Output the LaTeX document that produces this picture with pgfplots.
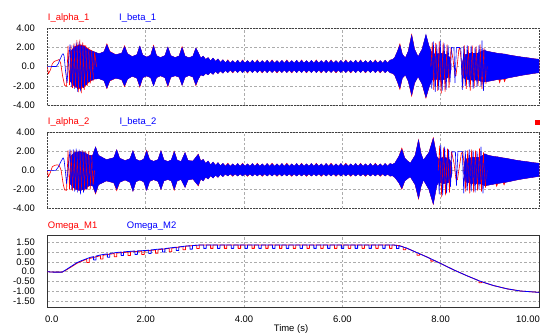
\documentclass[border=0pt]{standalone}
\usepackage{pgfplots}
\pgfplotsset{compat=1.18}
\usepackage{pgfplotstable}
\usepgfplotslibrary{fillbetween}
\usepackage{fontspec}
\setmainfont{Liberation Sans}

\pgfplotstableread{
t bu bl ru rl
0.46 1.5 -1.5 1.5 -1.5
0.55 2.0 -2.0 2.1 -2.1
0.65 2.2 -2.2 2.3 -2.3
0.75 2.1 -2.0 2.2 -2.1
0.85 1.7 -1.5 1.8 -1.6
0.95 1.55 -1.3 1.55 -1.3
1.05 1.35 -1.25 1.35 -1.25
1.15 1.55 -1.45 1.55 -1.45
1.21 2.3 -2.25 2.4 -2.3
1.27 1.55 -1.45 1.6 -1.5
1.39 1.25 -1.2 1.25 -1.2
1.51 1.4 -1.35 1.4 -1.35
1.57 2.1 -2.0 2.2 -2.1
1.63 1.35 -1.3 1.35 -1.3
1.725 1.05 -1.0 1.05 -1.0
1.82 1.25 -1.2 1.25 -1.2
1.88 2.15 -2.05 2.15 -2.15
1.94 1.2 -1.15 1.2 -1.15
2.02 1.0 -0.97 1.0 -0.97
2.10 1.2 -1.15 1.2 -1.15
2.16 2.15 -2.0 2.25 -2.0
2.22 1.15 -1.15 1.15 -1.15
2.30 0.95 -0.95 0.95 -0.95
2.39 1.15 -1.15 1.15 -1.15
2.45 2.05 -2.0 2.05 -2.1
2.51 1.15 -1.1 1.15 -1.1
2.60 0.95 -0.95 0.95 -0.95
2.68 1.12 -1.1 1.12 -1.1
2.74 2.0 -1.95 2.1 -1.95
2.80 1.1 -1.1 1.1 -1.1
2.88 0.92 -0.92 0.92 -0.92
2.96 1.1 -1.08 1.1 -1.08
3.02 1.95 -1.9 1.95 -2.0
3.07 1.46 -1.3 1.46 -1.3
3.12 0.9 -0.85 0.9 -0.85
3.17 1.1 -0.97 1.1 -0.97
3.22 0.75 -0.7 0.75 -0.7
3.27 0.95 -0.85 0.95 -0.85
3.32 0.6 -0.6 0.6 -0.6
3.37 0.9 -0.8 0.9 -0.8
3.42 0.55 -0.5 0.55 -0.5
3.47 0.8 -0.72 0.8 -0.72
3.52 0.45 -0.45 0.45 -0.45
3.57 0.72 -0.68 0.72 -0.68
3.62 0.4 -0.4 0.4 -0.4
3.67 0.66 -0.62 0.72 -0.62
3.72 0.36 -0.35 0.36 -0.35
3.77 0.64 -0.6 0.64 -0.66
3.82 0.36 -0.35 0.36 -0.35
3.87 0.68 -0.62 0.68 -0.62
3.92 0.36 -0.35 0.36 -0.35
3.97 0.65 -0.63 0.71 -0.63
4.02 0.36 -0.35 0.36 -0.35
4.07 0.63 -0.6 0.63 -0.67
4.12 0.36 -0.35 0.36 -0.35
4.17 0.67 -0.62 0.67 -0.62
4.22 0.36 -0.35 0.36 -0.35
4.27 0.65 -0.62 0.71 -0.62
4.32 0.36 -0.35 0.36 -0.35
4.37 0.64 -0.6 0.64 -0.66
4.42 0.36 -0.35 0.36 -0.35
4.47 0.67 -0.63 0.67 -0.63
4.52 0.36 -0.35 0.36 -0.35
4.57 0.65 -0.61 0.71 -0.61
4.62 0.36 -0.35 0.36 -0.35
4.67 0.63 -0.6 0.63 -0.66
4.72 0.36 -0.35 0.36 -0.35
4.77 0.66 -0.62 0.66 -0.62
4.82 0.36 -0.35 0.36 -0.35
4.87 0.65 -0.62 0.71 -0.62
4.92 0.36 -0.35 0.36 -0.35
4.97 0.64 -0.6 0.64 -0.66
5.02 0.36 -0.35 0.36 -0.35
5.07 0.67 -0.63 0.67 -0.63
5.12 0.36 -0.35 0.36 -0.35
5.17 0.65 -0.61 0.71 -0.61
5.22 0.36 -0.35 0.36 -0.35
5.27 0.63 -0.6 0.63 -0.66
5.32 0.36 -0.35 0.36 -0.35
5.37 0.66 -0.62 0.66 -0.62
5.42 0.36 -0.35 0.36 -0.35
5.47 0.65 -0.62 0.71 -0.62
5.52 0.36 -0.35 0.36 -0.35
5.57 0.64 -0.6 0.64 -0.66
5.62 0.36 -0.35 0.36 -0.35
5.67 0.67 -0.63 0.67 -0.63
5.72 0.36 -0.35 0.36 -0.35
5.77 0.65 -0.61 0.71 -0.61
5.82 0.36 -0.35 0.36 -0.35
5.87 0.63 -0.6 0.63 -0.66
5.92 0.36 -0.35 0.36 -0.35
5.97 0.66 -0.62 0.66 -0.62
6.02 0.36 -0.35 0.36 -0.35
6.07 0.65 -0.62 0.71 -0.62
6.12 0.36 -0.35 0.36 -0.35
6.17 0.64 -0.6 0.64 -0.66
6.22 0.36 -0.35 0.36 -0.35
6.27 0.67 -0.63 0.67 -0.63
6.32 0.36 -0.35 0.36 -0.35
6.37 0.65 -0.61 0.71 -0.61
6.42 0.36 -0.35 0.36 -0.35
6.47 0.63 -0.6 0.63 -0.66
6.52 0.36 -0.35 0.36 -0.35
6.57 0.66 -0.62 0.66 -0.62
6.62 0.36 -0.35 0.36 -0.35
6.67 0.65 -0.62 0.71 -0.62
6.72 0.36 -0.35 0.36 -0.35
6.77 0.64 -0.6 0.64 -0.66
6.82 0.36 -0.35 0.36 -0.35
6.87 0.67 -0.63 0.67 -0.63
6.92 0.38 -0.37 0.38 -0.37
6.97 0.68 -0.64 0.68 -0.64
7.02 0.75 -0.7 0.75 -0.7
7.06 0.9 -0.85 0.9 -0.85
7.12 1.6 -1.6 1.6 -1.6
7.17 2.26 -2.25 2.4 -2.4
7.22 1.3 -1.2 1.3 -1.2
7.28 0.9 -0.86 0.9 -0.86
7.34 1.6 -1.5 1.6 -1.5
7.41 3.3 -2.95 3.4 -3.1
7.47 1.8 -1.7 1.8 -1.7
7.54 1.04 -1.04 1.04 -1.04
7.62 1.8 -1.8 1.8 -1.8
7.70 3.37 -3.2 3.3 -3.3
7.76 2.2 -2.2 2.2 -2.2
7.82 1.4 -1.4 1.4 -1.4
7.90 1.3 -1.3 1.3 -1.3
8.00 1.4 -1.4 1.4 -1.4
8.10 1.3 -1.3 1.3 -1.3
8.18 1.0 -1.0 1.0 -1.0
8.21 0.3 -0.3 0.3 -0.3
}\pOneA

\pgfplotstableread{
t bu bl ru rl
8.44 0.3 -0.3 0.3 -0.3
8.47 1.2 -1.2 1.2 -1.2
8.60 1.4 -1.4 1.4 -1.4
8.75 1.4 -1.4 1.4 -1.4
8.88 1.7 -1.6 1.7 -1.6
8.95 1.6 -1.55 1.6 -1.55
9.05 1.5 -1.45 1.5 -1.45
9.15 1.4 -1.35 1.4 -1.35
9.18 1.38 -1.34 1.38 -1.34
9.20 1.37 -1.33 1.37 -1.7
9.22 1.36 -1.32 1.36 -1.32
9.28 1.32 -1.28 1.32 -1.28
9.30 1.31 -1.27 1.31 -1.6
9.32 1.3 -1.26 1.3 -1.26
9.35 1.25 -1.2 1.25 -1.2
9.50 1.12 -1.05 1.12 -1.05
9.65 1.0 -0.9 1.0 -0.9
9.80 0.9 -0.78 0.9 -0.78
9.90 0.82 -0.7 0.82 -0.7
10.0 0.77 -0.63 0.77 -0.63
}\pOneB

\pgfplotstableread{
t bu bl ru rl
0.46 1.4 -1.4 1.4 -1.4
0.55 1.9 -1.9 1.9 -1.9
0.65 2.0 -2.1 2.0 -2.1
0.75 1.9 -2.0 1.9 -2.0
0.85 1.6 -1.6 1.6 -1.6
0.92 1.6 -1.6 1.6 -1.6
0.98 2.5 -2.4 2.5 -2.5
1.04 1.6 -1.5 1.6 -1.5
1.20 1.15 -1.1 1.15 -1.1
1.35 1.35 -1.3 1.35 -1.3
1.41 2.2 -2.0 2.2 -2.15
1.47 1.3 -1.25 1.3 -1.25
1.58 1.05 -1.0 1.05 -1.0
1.68 1.25 -1.25 1.25 -1.25
1.74 2.1 -2.2 2.1 -2.2
1.80 1.2 -1.2 1.2 -1.2
1.88 1.0 -1.0 1.0 -1.0
1.96 1.2 -1.2 1.2 -1.2
2.02 2.05 -2.1 2.15 -2.1
2.08 1.15 -1.15 1.15 -1.15
2.16 0.97 -0.97 0.97 -0.97
2.25 1.15 -1.15 1.15 -1.15
2.31 2.1 -2.0 2.1 -2.0
2.37 1.12 -1.1 1.12 -1.1
2.45 0.95 -0.95 0.95 -0.95
2.52 1.12 -1.1 1.12 -1.1
2.58 2.0 -2.0 2.05 -2.1
2.64 1.1 -1.1 1.1 -1.1
2.72 0.95 -0.95 0.95 -0.95
2.80 1.9 -1.8 1.9 -1.8
2.86 1.05 -1.0 1.05 -1.0
2.96 1.0 -0.9 1.0 -0.9
3.02 1.4 -1.3 1.4 -1.3
3.07 1.71 -1.57 1.75 -1.65
3.12 1.0 -0.9 1.0 -0.9
3.17 1.18 -1.1 1.18 -1.1
3.22 0.75 -0.7 0.75 -0.7
3.27 1.0 -0.9 1.0 -0.9
3.32 0.6 -0.55 0.6 -0.55
3.37 0.9 -0.8 0.9 -0.8
3.42 0.55 -0.5 0.55 -0.5
3.47 0.83 -0.72 0.83 -0.72
3.52 0.5 -0.42 0.5 -0.42
3.57 0.76 -0.65 0.76 -0.65
3.62 0.46 -0.38 0.46 -0.38
3.67 0.72 -0.58 0.78 -0.58
3.72 0.45 -0.36 0.45 -0.36
3.77 0.7 -0.57 0.7 -0.63
3.82 0.45 -0.36 0.45 -0.36
3.87 0.74 -0.59 0.74 -0.59
3.92 0.45 -0.36 0.45 -0.36
3.97 0.72 -0.58 0.78 -0.58
4.02 0.45 -0.36 0.45 -0.36
4.07 0.7 -0.57 0.7 -0.63
4.12 0.45 -0.36 0.45 -0.36
4.17 0.74 -0.59 0.74 -0.59
4.22 0.45 -0.36 0.45 -0.36
4.27 0.72 -0.58 0.78 -0.58
4.32 0.45 -0.36 0.45 -0.36
4.37 0.7 -0.57 0.7 -0.63
4.42 0.45 -0.36 0.45 -0.36
4.47 0.74 -0.59 0.74 -0.59
4.52 0.45 -0.36 0.45 -0.36
4.57 0.72 -0.58 0.78 -0.58
4.62 0.45 -0.36 0.45 -0.36
4.67 0.7 -0.57 0.7 -0.63
4.72 0.45 -0.36 0.45 -0.36
4.77 0.74 -0.59 0.74 -0.59
4.82 0.45 -0.36 0.45 -0.36
4.87 0.72 -0.58 0.78 -0.58
4.92 0.45 -0.36 0.45 -0.36
4.97 0.7 -0.57 0.7 -0.63
5.02 0.45 -0.36 0.45 -0.36
5.07 0.74 -0.59 0.74 -0.59
5.12 0.45 -0.36 0.45 -0.36
5.17 0.72 -0.58 0.78 -0.58
5.22 0.45 -0.36 0.45 -0.36
5.27 0.7 -0.57 0.7 -0.63
5.32 0.45 -0.36 0.45 -0.36
5.37 0.74 -0.59 0.74 -0.59
5.42 0.45 -0.36 0.45 -0.36
5.47 0.72 -0.58 0.78 -0.58
5.52 0.45 -0.36 0.45 -0.36
5.57 0.7 -0.57 0.7 -0.63
5.62 0.45 -0.36 0.45 -0.36
5.67 0.74 -0.59 0.74 -0.59
5.72 0.45 -0.36 0.45 -0.36
5.77 0.72 -0.58 0.78 -0.58
5.82 0.45 -0.36 0.45 -0.36
5.87 0.7 -0.57 0.7 -0.63
5.92 0.45 -0.36 0.45 -0.36
5.97 0.74 -0.59 0.74 -0.59
6.02 0.45 -0.36 0.45 -0.36
6.07 0.72 -0.58 0.78 -0.58
6.12 0.45 -0.36 0.45 -0.36
6.17 0.7 -0.57 0.7 -0.63
6.22 0.45 -0.36 0.45 -0.36
6.27 0.74 -0.59 0.74 -0.59
6.32 0.45 -0.36 0.45 -0.36
6.37 0.72 -0.58 0.78 -0.58
6.42 0.45 -0.36 0.45 -0.36
6.47 0.7 -0.57 0.7 -0.63
6.52 0.45 -0.36 0.45 -0.36
6.57 0.74 -0.59 0.74 -0.59
6.62 0.45 -0.36 0.45 -0.36
6.67 0.72 -0.58 0.78 -0.58
6.72 0.45 -0.36 0.45 -0.36
6.77 0.7 -0.57 0.7 -0.63
6.82 0.45 -0.36 0.45 -0.36
6.87 0.74 -0.59 0.74 -0.59
6.92 0.46 -0.38 0.46 -0.38
6.97 0.74 -0.6 0.74 -0.6
7.02 0.65 -0.55 0.65 -0.55
7.07 0.8 -0.75 0.8 -0.75
7.15 1.5 -1.3 1.5 -1.3
7.21 2.24 -1.9 2.4 -2.0
7.27 1.3 -1.1 1.3 -1.1
7.38 0.76 -0.65 0.76 -0.65
7.48 1.6 -1.5 1.6 -1.5
7.55 3.23 -2.95 3.3 -3.05
7.60 1.8 -1.7 1.8 -1.7
7.65 1.1 -1.0 1.1 -1.0
7.76 1.9 -2.0 1.9 -2.0
7.85 3.4 -3.55 3.5 -3.6
7.92 1.5 -1.6 1.5 -1.6
7.96 1.2 -1.2 1.2 -1.2
8.05 1.4 -1.4 1.4 -1.4
8.15 1.3 -1.3 1.3 -1.3
8.20 1.0 -1.0 1.0 -1.0
8.23 0.3 -0.3 0.3 -0.3
}\pTwoA

\pgfplotstableread{
t bu bl ru rl
8.47 0.3 -0.3 0.3 -0.3
8.50 1.2 -1.2 1.2 -1.2
8.65 1.4 -1.4 1.4 -1.4
8.80 1.4 -1.4 1.4 -1.4
8.90 1.75 -1.6 1.75 -1.6
8.97 1.6 -1.55 1.6 -1.55
9.07 1.5 -1.45 1.5 -1.45
9.12 1.46 -1.4 1.46 -1.4
9.14 1.45 -1.39 1.45 -1.7
9.16 1.44 -1.38 1.44 -1.38
9.27 1.33 -1.28 1.33 -1.28
9.29 1.32 -1.27 1.32 -1.55
9.31 1.31 -1.26 1.31 -1.26
9.37 1.25 -1.2 1.25 -1.2
9.50 1.12 -1.05 1.12 -1.05
9.65 1.0 -0.9 1.0 -0.9
9.80 0.9 -0.78 0.9 -0.78
9.90 0.82 -0.7 0.82 -0.7
10.0 0.77 -0.63 0.77 -0.63
}\pTwoB

\pgfplotsset{
  psim/.style={
    scale only axis, anchor=south west, width=491.6bp,
    xmin=0, xmax=10,
    axis line style={black!75, dash pattern=on 2bp off 1bp, line width=0.6bp},
    grid=major,
    major grid style={gray!65, dash pattern=on 2.5bp off 2bp, line width=0.5bp},
    major tick length=0pt,
    tick label style={font=\fontsize{9.5}{11}\selectfont, black},
    yticklabel style={anchor=east, inner sep=0pt, xshift=-12.4bp},
    xtick={2,4,6,8}, xticklabels={},
  },
  wave/.style={line width=0.6bp, line join=round, mark=none},
  band/.style={line width=0.3bp},
}

\newcommand{\lab}{\fontsize{9.5}{11}\selectfont}

\begin{document}
\begin{tikzpicture}

% ---------------- panel 1
\begin{axis}[psim, at={(47.4bp,229bp)}, height=76.7bp, ymin=-4, ymax=4,
  ytick={-4,-2,0,2,4}, yticklabels={-4.00,-2.00,0.0,2.00,4.00}]
% red I_alpha_1
\addplot[name path=r1u, draw=none] table[x=t,y=ru]{\pOneA};
\addplot[name path=r1l, draw=none] table[x=t,y=rl]{\pOneA};
\addplot[band, fill=red, draw=red] fill between[of=r1u and r1l];
\addplot[name path=r2u, draw=none] table[x=t,y=ru]{\pOneB};
\addplot[name path=r2l, draw=none] table[x=t,y=rl]{\pOneB};
\addplot[band, fill=red, draw=red] fill between[of=r2u and r2l];
\addplot[wave, red] coordinates {(0,0) (0.02,-0.75) (0.06,-0.35) (0.10,0.3) (0.14,0.55) (0.20,0.65) (0.24,0.75) (0.27,0.35) (0.31,-1.0) (0.35,-1.95) (0.39,-2.05) (0.42,2.15) (0.45,-1.9) (0.48,2.2) (0.51,-2.2) (0.54,2.4) (0.57,-2.1) (0.60,2.75) (0.63,-2.65) (0.66,2.8) (0.69,-2.75) (0.72,2.5) (0.75,-2.4) (0.78,2.2) (0.81,-2.0) (0.84,1.9) (0.87,-1.75) (0.90,1.7) (0.93,-1.5) (0.96,1.5) (1.0,0)};
\addplot[wave, red] coordinates {(7.80,0) (7.83,2.5) (7.86,-2.4) (7.90,2.45) (7.94,-2.5) (7.97,2.6) (8.01,-2.8) (8.05,2.5) (8.09,-2.6) (8.13,2.3) (8.17,-2.2) (8.21,2.0) (8.25,0.8) (8.29,-0.9) (8.31,-0.95) (8.34,0.3) (8.37,1.8) (8.39,2.0) (8.42,0.5) (8.45,-2.2) (8.48,2.2) (8.52,-2.3) (8.56,2.1) (8.60,-2.5) (8.64,2.2) (8.68,-2.2) (8.72,2.1) (8.76,-2.0) (8.80,2.3) (8.84,-2.3) (8.88,1.9) (8.92,-1.8) (8.95,0)};
% blue I_beta_1
\addplot[name path=b1u, draw=none] table[x=t,y=bu]{\pOneA};
\addplot[name path=b1l, draw=none] table[x=t,y=bl]{\pOneA};
\addplot[band, fill=blue, draw=blue] fill between[of=b1u and b1l];
\addplot[name path=b2u, draw=none] table[x=t,y=bu]{\pOneB};
\addplot[name path=b2l, draw=none] table[x=t,y=bl]{\pOneB};
\addplot[band, fill=blue, draw=blue] fill between[of=b2u and b2l];
\addplot[wave, blue] coordinates {(0,0) (0.18,0.02) (0.22,0.3) (0.26,0.8) (0.30,1.25) (0.32,1.35) (0.34,1.1) (0.37,-0.5) (0.40,-1.67) (0.43,0.5) (0.46,2.3) (0.495,-2.1) (0.525,2.2) (0.555,-2.3) (0.585,2.5) (0.615,-2.6) (0.645,2.6) (0.675,-2.55) (0.705,2.3) (0.735,-2.2) (0.765,2.0) (0.795,-1.9) (0.825,1.8) (0.855,-1.6) (0.885,1.6) (0.915,-1.4) (0.95,0)};
\addplot[wave, blue] coordinates {(7.80,0) (7.82,-2.3) (7.85,2.6) (7.89,-2.6) (7.92,2.3) (7.96,-2.4) (7.99,2.7) (8.03,-2.5) (8.07,2.4) (8.11,-2.4) (8.15,2.2) (8.19,-1.6) (8.22,2.0) (8.27,1.95) (8.29,-1.7) (8.32,2.0) (8.38,2.0) (8.41,1.9) (8.44,-2.4) (8.47,2.1) (8.50,-2.0) (8.54,2.2) (8.58,-2.1) (8.62,2.15) (8.66,-2.3) (8.70,2.0) (8.74,-2.1) (8.78,2.2) (8.82,-2.0) (8.84,2.7) (8.87,-2.5) (8.90,1.8) (8.93,-1.6) (8.96,0)};
\end{axis}

% ---------------- panel 2
\begin{axis}[psim, at={(47.4bp,125.7bp)}, height=75.6bp, ymin=-4, ymax=4,
  ytick={-4,-2,0,2,4}, yticklabels={-4.00,-2.00,0.0,2.00,4.00}]
\addplot[name path=r1u, draw=none] table[x=t,y=ru]{\pTwoA};
\addplot[name path=r1l, draw=none] table[x=t,y=rl]{\pTwoA};
\addplot[band, fill=red, draw=red] fill between[of=r1u and r1l];
\addplot[name path=r2u, draw=none] table[x=t,y=ru]{\pTwoB};
\addplot[name path=r2l, draw=none] table[x=t,y=rl]{\pTwoB};
\addplot[band, fill=red, draw=red] fill between[of=r2u and r2l];
\addplot[wave, red] coordinates {(0,0) (0.02,-0.65) (0.06,-0.2) (0.10,0.4) (0.15,0.55) (0.20,0.6) (0.24,0.55) (0.28,0.0) (0.32,-1.4) (0.35,-2.06) (0.39,-2.1) (0.42,2.1) (0.45,-2.0) (0.48,2.1) (0.51,-2.1) (0.54,2.1) (0.57,-2.05) (0.60,2.1) (0.63,-2.1) (0.66,2.05) (0.69,-2.1) (0.72,2.1) (0.75,-2.1) (0.78,2.0) (0.81,-2.0) (0.84,2.0) (0.87,-2.0) (0.90,1.6) (0.93,-1.5) (0.96,0)};
\addplot[wave, red] coordinates {(7.95,0) (7.98,2.6) (8.02,-2.8) (8.06,2.4) (8.10,-2.6) (8.14,2.3) (8.18,-2.3) (8.22,2.0) (8.27,0.8) (8.31,-0.9) (8.34,-1.0) (8.38,0.4) (8.42,1.8) (8.45,2.0) (8.48,0.3) (8.51,-2.2) (8.55,2.1) (8.59,-2.4) (8.63,2.2) (8.67,-2.3) (8.71,2.1) (8.75,-2.1) (8.79,2.3) (8.83,-2.2) (8.87,1.9) (8.91,-1.8) (8.95,0)};
\addplot[name path=b1u, draw=none] table[x=t,y=bu]{\pTwoA};
\addplot[name path=b1l, draw=none] table[x=t,y=bl]{\pTwoA};
\addplot[band, fill=blue, draw=blue] fill between[of=b1u and b1l];
\addplot[name path=b2u, draw=none] table[x=t,y=bu]{\pTwoB};
\addplot[name path=b2l, draw=none] table[x=t,y=bl]{\pTwoB};
\addplot[band, fill=blue, draw=blue] fill between[of=b2u and b2l];
\addplot[wave, blue] coordinates {(0,0) (0.17,0.02) (0.22,0.35) (0.27,0.9) (0.32,1.35) (0.34,1.1) (0.37,-0.3) (0.39,-1.4) (0.43,0.6) (0.46,2.2) (0.495,-2.0) (0.525,2.2) (0.555,-2.2) (0.585,2.3) (0.615,-2.3) (0.645,2.2) (0.675,-2.5) (0.705,2.1) (0.735,-2.3) (0.765,1.9) (0.795,-2.0) (0.825,1.7) (0.855,-1.6) (0.885,1.5) (0.92,0)};
\addplot[wave, blue] coordinates {(7.95,0) (7.97,-2.5) (8.00,2.7) (8.04,-2.6) (8.08,2.5) (8.12,-2.4) (8.16,2.2) (8.20,-1.7) (8.23,2.0) (8.30,1.95) (8.32,-1.6) (8.35,2.0) (8.44,2.0) (8.47,-2.4) (8.50,2.1) (8.54,-2.1) (8.58,2.2) (8.62,-2.2) (8.66,2.1) (8.70,-2.3) (8.74,2.0) (8.78,-2.0) (8.82,2.5) (8.86,-2.4) (8.90,1.8) (8.93,-1.6) (8.96,0)};
\end{axis}

% ---------------- panel 3
\begin{axis}[psim, at={(47.4bp,26.7bp)}, height=72.3bp, ymin=-1.81, ymax=1.87,
  axis line style={black!80, solid, line width=0.6bp},
  ytick={-1.5,-1,-0.5,0,0.5,1,1.5},
  yticklabels={-1.50,-1.00,-0.50,0.0,0.50,1.00,1.50},
  xtick={0,2,4,6,8}, xticklabels={\hspace*{8.6bp}0.0,2.00,4.00,6.00,8.00},
  xticklabel style={anchor=base, inner sep=0pt, yshift=-15.2bp},
  extra x ticks={10}, extra x tick labels={10.00},
  extra x tick style={grid=none, xticklabel style={anchor=base east, xshift=1bp}}]
\addplot[line width=0.8bp, red, line join=round] coordinates {(0,0) (0.12,-0.02) (0.3,-0.02) (0.39,0.1) (0.5,0.27) (0.6,0.43) (0.7,0.54)
(0.8,0.64) (0.8,0.47) (0.85,0.47) (0.85,0.67)
(1.08,0.82) (1.08,0.65) (1.13,0.65) (1.13,0.84)
(1.36,0.93) (1.36,0.76) (1.41,0.76) (1.41,0.95)
(1.64,1.0) (1.64,0.83) (1.69,0.83) (1.69,1.01)
(1.92,1.05) (1.92,0.88) (1.97,0.88) (1.97,1.06)
(2.20,1.11) (2.20,0.94) (2.25,0.94) (2.25,1.12)
(2.48,1.19) (2.48,1.02) (2.53,1.02) (2.53,1.2)
(2.76,1.29) (2.76,1.12) (2.81,1.12) (2.81,1.3)
(3.04,1.35) (3.04,1.18) (3.09,1.18) (3.09,1.36)
(3.32,1.36) (3.32,1.19) (3.37,1.19) (3.37,1.36)
(3.60,1.36) (3.60,1.19) (3.65,1.19) (3.65,1.36)
(3.88,1.36) (3.88,1.19) (3.93,1.19) (3.93,1.36)
(4.16,1.36) (4.16,1.19) (4.21,1.19) (4.21,1.36)
(4.44,1.36) (4.44,1.19) (4.49,1.19) (4.49,1.36)
(4.72,1.36) (4.72,1.19) (4.77,1.19) (4.77,1.36)
(5.00,1.36) (5.00,1.19) (5.05,1.19) (5.05,1.36)
(5.28,1.36) (5.28,1.19) (5.33,1.19) (5.33,1.36)
(5.56,1.36) (5.56,1.19) (5.61,1.19) (5.61,1.36)
(5.84,1.36) (5.84,1.19) (5.89,1.19) (5.89,1.36)
(6.12,1.36) (6.12,1.19) (6.17,1.19) (6.17,1.36)
(6.40,1.36) (6.40,1.19) (6.45,1.19) (6.45,1.36)
(6.68,1.36) (6.68,1.19) (6.73,1.19) (6.73,1.36)
(6.96,1.36) (6.96,1.19) (7.01,1.19) (7.01,1.36)
(7.04,1.36) (7.15,1.33)
(7.24,1.27) (7.24,1.12) (7.29,1.12) (7.29,1.21)
(7.31,1.2) (7.51,0.98)
(7.52,0.97) (7.52,0.84) (7.57,0.84) (7.57,0.92)
(7.72,0.75)
(7.80,0.66) (7.80,0.54) (7.85,0.54) (7.85,0.6)
(8.0,0.42) (8.26,0.1) (8.53,-0.2)
(8.78,-0.46) (8.78,-0.56) (8.83,-0.56) (8.83,-0.51)
(9.07,-0.7) (9.35,-0.87) (9.62,-0.98) (10,-1.05)};
\addplot[line width=0.8bp, blue, line join=round] coordinates {(0,0) (0.12,-0.02) (0.3,-0.02) (0.39,0.12) (0.5,0.3) (0.6,0.46) (0.7,0.57) (0.87,0.73)
(0.94,0.77) (0.94,0.6) (0.99,0.6) (0.99,0.8)
(1.07,0.85)
(1.22,0.91) (1.22,0.74) (1.27,0.74) (1.27,0.93)
(1.41,0.98)
(1.50,1.0) (1.50,0.83) (1.55,0.83) (1.55,1.01)
(1.75,1.05)
(1.78,1.05) (1.78,0.88) (1.83,0.88) (1.83,1.06)
(2.0,1.08)
(2.06,1.10) (2.06,0.93) (2.11,0.93) (2.11,1.11)
(2.34,1.17) (2.34,1.0) (2.39,1.0) (2.39,1.18)
(2.43,1.19)
(2.62,1.25) (2.62,1.08) (2.67,1.08) (2.67,1.26)
(2.83,1.31)
(2.90,1.32) (2.90,1.15) (2.95,1.15) (2.95,1.33)
(3.1,1.36)
(3.18,1.36) (3.18,1.19) (3.23,1.19) (3.23,1.36)
(3.46,1.36) (3.46,1.19) (3.51,1.19) (3.51,1.36)
(3.74,1.36) (3.74,1.19) (3.79,1.19) (3.79,1.36)
(4.02,1.36) (4.02,1.19) (4.07,1.19) (4.07,1.36)
(4.30,1.36) (4.30,1.19) (4.35,1.19) (4.35,1.36)
(4.58,1.36) (4.58,1.19) (4.63,1.19) (4.63,1.36)
(4.86,1.36) (4.86,1.19) (4.91,1.19) (4.91,1.36)
(5.14,1.36) (5.14,1.19) (5.19,1.19) (5.19,1.36)
(5.42,1.36) (5.42,1.19) (5.47,1.19) (5.47,1.36)
(5.70,1.36) (5.70,1.19) (5.75,1.19) (5.75,1.36)
(5.98,1.36) (5.98,1.19) (6.03,1.19) (6.03,1.36)
(6.26,1.36) (6.26,1.19) (6.31,1.19) (6.31,1.36)
(6.54,1.36) (6.54,1.19) (6.59,1.19) (6.59,1.36)
(6.82,1.36) (6.82,1.19) (6.87,1.19) (6.87,1.36)
(7.04,1.36)
(7.10,1.345) (7.10,1.18) (7.15,1.18) (7.15,1.33)
(7.31,1.2) (7.51,0.98) (7.72,0.75) (8.0,0.42) (8.26,0.1) (8.53,-0.2) (8.8,-0.48) (9.07,-0.7) (9.35,-0.87) (9.62,-0.98) (10,-1.05)};
\end{axis}

% labels
\node[anchor=base west, inner sep=0pt, text=red, font=\lab] at (47.7bp,313.8bp) {I\_alpha\_1};
\node[anchor=base west, inner sep=0pt, text=blue, font=\lab] at (119bp,313.8bp) {I\_beta\_1};
\node[anchor=base west, inner sep=0pt, text=red, font=\lab] at (47.7bp,209.5bp) {I\_alpha\_2};
\node[anchor=base west, inner sep=0pt, text=blue, font=\lab] at (119.3bp,209.5bp) {I\_beta\_2};
\node[anchor=base west, inner sep=0pt, text=red, font=\lab] at (47.7bp,105.5bp) {Omega\_M1};
\node[anchor=base west, inner sep=0pt, text=blue, font=\lab] at (126.7bp,105.5bp) {Omega\_M2};
\node[anchor=base, inner sep=0pt, font=\lab] at (291bp,2.2bp) {Time (s)};
\fill[red] (535bp,208.5bp) rectangle (540bp,213.5bp);
\pgfresetboundingbox
\useasboundingbox (0,0) rectangle (544bp,334bp);
\end{tikzpicture}
\end{document}
